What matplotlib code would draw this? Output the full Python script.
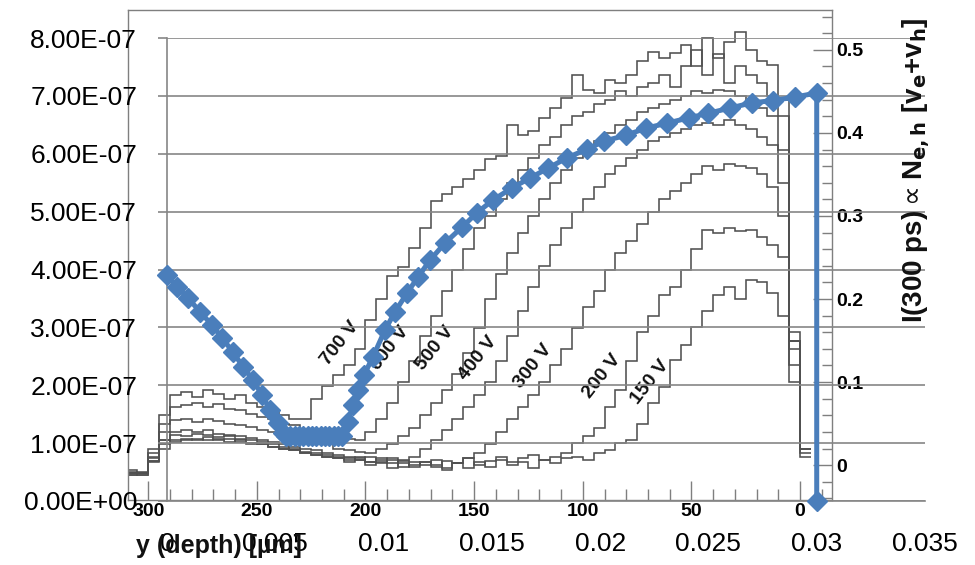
import numpy as np
import matplotlib
matplotlib.use("Agg")
import matplotlib.pyplot as plt
from matplotlib.ticker import MultipleLocator, FuncFormatter

plt.rcParams['font.family'] = ['Liberation Sans', 'DejaVu Sans']

# ---------------- Excel series (blue) ----------------
blue_x = [0.0, 0.00046, 0.00097, 0.00152, 0.00208, 0.00254, 0.00305, 0.00351,
          0.00397, 0.00439, 0.00476, 0.00512, 0.00536,
          0.0055, 0.0057, 0.0059, 0.0061, 0.0063, 0.0065, 0.0067, 0.0069,
          0.0071, 0.0073, 0.0075, 0.0077, 0.0079, 0.0081,
          0.00836, 0.00859, 0.00882, 0.00910, 0.00951, 0.01006, 0.01053,
          0.01108, 0.01159, 0.01214, 0.01284, 0.01362, 0.01431, 0.01505,
          0.01593, 0.01676, 0.01759, 0.01847,
          0.0194, 0.0202, 0.0212, 0.0221, 0.0231, 0.0241, 0.0250, 0.0260,
          0.0270, 0.0280, 0.0290, 0.0300, 0.0300]
blue_y = [3.90e-7, 3.70e-7, 3.51e-7, 3.27e-7, 3.04e-7, 2.82e-7, 2.57e-7, 2.32e-7,
          2.09e-7, 1.83e-7, 1.57e-7, 1.35e-7, 1.17e-7,
          1.13e-7, 1.13e-7, 1.13e-7, 1.13e-7, 1.13e-7, 1.13e-7, 1.13e-7, 1.13e-7,
          1.13e-7, 1.13e-7, 1.13e-7, 1.13e-7, 1.13e-7, 1.13e-7,
          1.37e-7, 1.66e-7, 1.92e-7, 2.18e-7, 2.49e-7, 2.95e-7, 3.27e-7,
          3.59e-7, 3.87e-7, 4.16e-7, 4.46e-7, 4.73e-7, 4.98e-7, 5.20e-7,
          5.41e-7, 5.58e-7, 5.75e-7, 5.93e-7,
          6.08e-7, 6.22e-7, 6.32e-7, 6.44e-7, 6.53e-7, 6.62e-7, 6.70e-7, 6.79e-7,
          6.88e-7, 6.92e-7, 6.98e-7, 7.05e-7, 0.0]

# ---------------- background histogram (depth in um, deep -> shallow) ----------------
depth_edges = np.arange(310, -10, -5)   # 64 edges, 63 bins

h_700 = [-0.010, -0.008, 0.020, 0.060, 0.085, 0.088, 0.082, 0.090, 0.086, 0.080,
         0.084, 0.075, 0.070, 0.066, 0.060, 0.055, 0.056, 0.080, 0.095, 0.108,
         0.120, 0.140, 0.175, 0.200, 0.228, 0.238, 0.262, 0.285, 0.318, 0.326,
         0.335, 0.345, 0.355, 0.368, 0.372, 0.410, 0.398, 0.402, 0.418, 0.430,
         0.442, 0.470, 0.452, 0.448, 0.464, 0.460, 0.470, 0.487, 0.498, 0.490,
         0.496, 0.506, 0.480, 0.514, 0.490, 0.510, 0.522, 0.500, 0.486, 0.482,
         0.440, 0.150, 0.010]
h_600 = [-0.012, -0.010, 0.015, 0.050, 0.070, 0.072, 0.075, 0.070, 0.074, 0.068,
         0.066, 0.062, 0.058, 0.055, 0.050, 0.048, 0.044, 0.040, 0.038, 0.034,
         0.032, 0.030, 0.040, 0.055, 0.075, 0.100, 0.125, 0.155, 0.180, 0.210,
         0.235, 0.260, 0.285, 0.300, 0.320, 0.340, 0.355, 0.370, 0.385, 0.395,
         0.410, 0.420, 0.425, 0.435, 0.440, 0.450, 0.445, 0.455, 0.460, 0.470,
         0.455, 0.480, 0.500, 0.470, 0.495, 0.460, 0.480, 0.470, 0.460, 0.445,
         0.420, 0.140, 0.015]
h_500 = [-0.010, -0.012, 0.010, 0.040, 0.054, 0.055, 0.052, 0.056, 0.053, 0.050,
         0.048, 0.046, 0.042, 0.040, 0.035, 0.032, 0.030, 0.028, 0.025, 0.020,
         0.018, 0.016, 0.015, 0.020, 0.025, 0.035, 0.045, 0.060, 0.075, 0.090,
         0.110, 0.135, 0.165, 0.200, 0.230, 0.255, 0.280, 0.300, 0.320, 0.340,
         0.355, 0.370, 0.380, 0.390, 0.400, 0.410, 0.415, 0.425, 0.430, 0.435,
         0.440, 0.445, 0.450, 0.448, 0.452, 0.450, 0.445, 0.440, 0.430, 0.420,
         0.380, 0.150, 0.020]
h_400 = [-0.012, -0.010, 0.008, 0.030, 0.040, 0.042, 0.040, 0.042, 0.038, 0.036,
         0.035, 0.033, 0.030, 0.028, 0.026, 0.022, 0.020, 0.018, 0.015, 0.012,
         0.010, 0.008, 0.010, 0.006, 0.008, 0.005, 0.010, 0.020, 0.030, 0.042,
         0.055, 0.070, 0.085, 0.100, 0.125, 0.155, 0.185, 0.215, 0.240, 0.265,
         0.285, 0.305, 0.320, 0.335, 0.350, 0.360, 0.370, 0.380, 0.390, 0.395,
         0.400, 0.405, 0.410, 0.412, 0.410, 0.415, 0.410, 0.405, 0.395, 0.385,
         0.340, 0.160, 0.020]
h_300 = [-0.010, -0.012, 0.005, 0.030, 0.036, 0.035, 0.038, 0.036, 0.034, 0.035,
         0.032, 0.030, 0.028, 0.026, 0.022, 0.020, 0.016, 0.014, 0.012, 0.010,
         0.008, 0.006, 0.004, 0.008, 0.002, 0.006, 0.000, 0.004, -0.002, 0.005,
         0.003, 0.008, 0.015, 0.025, 0.040, 0.055, 0.070, 0.085, 0.100, 0.120,
         0.140, 0.165, 0.190, 0.210, 0.235, 0.255, 0.270, 0.290, 0.305, 0.320,
         0.330, 0.340, 0.350, 0.360, 0.355, 0.362, 0.360, 0.358, 0.350, 0.335,
         0.300, 0.150, 0.020]
h_200 = [-0.008, -0.010, 0.005, 0.025, 0.030, 0.032, 0.030, 0.034, 0.030, 0.032,
         0.028, 0.027, 0.025, 0.022, 0.020, 0.018, 0.015, 0.012, 0.010, 0.008,
         0.006, 0.010, 0.004, 0.002, 0.006, -0.002, 0.004, 0.000, 0.006, -0.004,
         0.002, 0.008, 0.000, 0.005, 0.010, 0.004, 0.008, 0.012, 0.006, 0.010,
         0.014, 0.027, 0.035, 0.045, 0.070, 0.090, 0.125, 0.160, 0.180, 0.205,
         0.215, 0.235, 0.260, 0.283, 0.280, 0.285, 0.282, 0.283, 0.275, 0.265,
         0.250, 0.120, 0.020]
h_150 = [-0.006, -0.010, 0.004, 0.020, 0.028, 0.030, 0.032, 0.030, 0.031, 0.028,
         0.030, 0.026, 0.025, 0.022, 0.020, 0.018, 0.014, 0.012, 0.010, 0.008,
         0.004, 0.006, 0.000, 0.004, -0.004, 0.002, -0.002, 0.004, 0.000, -0.006,
         0.002, -0.004, 0.004, -0.002, 0.006, 0.000, 0.004, -0.004, 0.006, 0.002,
         0.008, 0.010, 0.006, 0.014, 0.018, 0.027, 0.030, 0.050, 0.075, 0.094,
         0.127, 0.145, 0.166, 0.185, 0.205, 0.214, 0.200, 0.223, 0.220, 0.207,
         0.180, 0.100, 0.020]

voltage_labels = ['700 V', '600 V', '500 V', '400 V', '300 V', '200 V', '150 V']
curves = [h_700, h_600, h_500, h_400, h_300, h_200, h_150]
label_pos = [(211.7, 0.147), (188.7, 0.141), (168.0, 0.141), (148.2, 0.129),
             (122.9, 0.119), (91.1, 0.107), (69.0, 0.100)]

# ---------------- figure ----------------
W, H = 975, 565
fig = plt.figure(figsize=(W / 100, H / 100), dpi=100)


def rect(l, t, r, b):
    return [l / W, 1 - b / H, (r - l) / W, (b - t) / H]


# background "image" plot
axi = fig.add_axes(rect(128, 10, 832, 500), zorder=1)
for h in curves:
    axi.stairs(np.array(h)[::-1], depth_edges[::-1], baseline=None,
               color='#505050', lw=1.15)
axi.set_xlim(309.3, -14.7)
axi.set_ylim(-0.042, 0.548)
for s in axi.spines.values():
    s.set_color('#7f7f7f')
    s.set_linewidth(1.0)
axi.yaxis.tick_right()
axi.xaxis.set_major_locator(MultipleLocator(50))
axi.xaxis.set_minor_locator(MultipleLocator(10))
axi.yaxis.set_major_locator(MultipleLocator(0.1))
axi.yaxis.set_minor_locator(MultipleLocator(0.02))
axi.xaxis.set_major_formatter(FuncFormatter(lambda v, p: '%d' % round(v)))
axi.yaxis.set_major_formatter(FuncFormatter(lambda v, p: '%g' % round(v, 2)))
axi.tick_params(axis='x', which='major', direction='in', length=14, width=1.0,
                color='#7f7f7f', labelsize=14, pad=2)
axi.tick_params(axis='x', which='minor', direction='in', length=8, width=1.0,
                color='#7f7f7f')
axi.tick_params(axis='y', which='major', direction='in', length=14, width=1.0,
                color='#7f7f7f', labelsize=14, pad=3)
axi.tick_params(axis='y', which='minor', direction='in', length=7, width=1.0,
                color='#7f7f7f')
for lab in axi.get_xticklabels() + axi.get_yticklabels():
    lab.set_fontweight('bold')
for txt, (d, hv) in zip(voltage_labels, label_pos):
    axi.text(d, hv, txt, rotation=52, ha='center', va='center',
             fontsize=14, fontweight='bold', color='#111111')

fig.text(219 / W, 1 - 546 / H, 'y (depth) [µm]', ha='center', va='center',
         fontsize=18, fontweight='bold', color='#111111')
fig.text(916 / W, 1 - 170 / H,
         r'I(300 ps)$\propto$N$_{\mathbf{e,h}}$ [v$_{\mathbf{e}}$+v$_{\mathbf{h}}$]',
         rotation=90, ha='center', va='center', fontsize=20, fontweight='bold',
         color='#111111')

# Excel chart axes
ax = fig.add_axes(rect(167, 38, 925, 501), zorder=2)
ax.patch.set_alpha(0)
ax.plot(blue_x, blue_y, color='#4a7ebb', lw=3.6, marker='D', ms=10,
        clip_on=False, zorder=5)
ax.set_xlim(0, 0.035)
ax.set_ylim(0, 8e-7)
ax.xaxis.set_major_locator(MultipleLocator(0.005))
ax.yaxis.set_major_locator(MultipleLocator(1e-7))
ax.yaxis.set_major_formatter(FuncFormatter(lambda v, p: f'{v:.2E}'))
ax.xaxis.set_major_formatter(FuncFormatter(lambda v, p: '0' if abs(v) < 1e-12 else '%g' % v))
ax.grid(axis='y', color='#868686', lw=1.2)
ax.set_axisbelow(True)
for side in ['top', 'right']:
    ax.spines[side].set_visible(False)
for side in ['left', 'bottom']:
    ax.spines[side].set_color('#868686')
    ax.spines[side].set_linewidth(1.2)
ax.tick_params(axis='y', direction='out', length=6.5, width=1.2, color='#868686',
               labelsize=19, pad=15)
ax.tick_params(axis='x', direction='out', length=6, width=1.2, color='#868686',
               labelsize=19, pad=16)
ticks = ax.xaxis.get_major_ticks()
for t in ticks[1:-1]:
    t.tick1line.set_visible(False)

fig.savefig('out.png', dpi=100)
